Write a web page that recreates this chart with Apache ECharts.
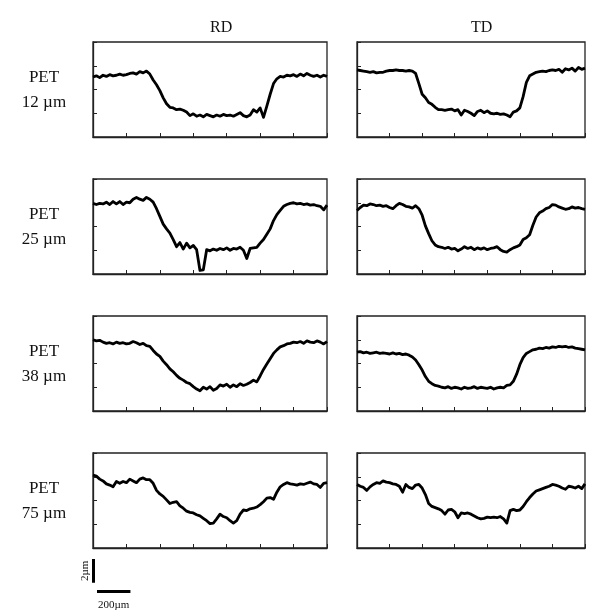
<!DOCTYPE html>
<html>
<head>
<meta charset="utf-8">
<script src="https://cdn.jsdelivr.net/npm/echarts@6/dist/echarts.min.js"></script>
<style>
  html, body { margin: 0; padding: 0; background: #fff; }
  #chart { width: 589px; height: 615px; }
</style>
</head>
<body>
<div id="chart"></div>
<script>
// Surface height profiles (µm) sampled every 20 µm across a 1400 µm scan
const positions = [];
for (let p = 0; p <= 1400; p += 20) positions.push(p);

const columnTitles = ['RD', 'TD'];
const rowFilms = ['PET', 'PET', 'PET', 'PET'];
const rowThickness = ['12 µm', '25 µm', '38 µm', '75 µm'];

const pet12RD = [5.05,5.15,5.0,5.2,5.1,5.25,5.15,5.2,5.3,5.2,5.25,5.35,5.4,5.3,5.5,5.4,5.55,5.3,4.8,4.4,3.9,3.3,2.8,2.5,2.45,2.3,2.35,2.25,2.1,1.8,1.95,1.75,1.85,1.7,1.9,1.8,1.7,1.85,1.75,1.9,1.8,1.85,1.75,1.9,2.05,1.8,1.7,1.85,2.3,2.1,2.45,1.65,2.6,3.6,4.5,4.9,5.1,5.05,5.2,5.15,5.25,5.1,5.3,5.15,5.35,5.2,5.1,5.2,5.05,5.2,5.1];
const pet12TD = [5.65,5.6,5.55,5.5,5.45,5.5,5.4,5.45,5.45,5.55,5.6,5.6,5.65,5.6,5.6,5.55,5.6,5.55,5.35,4.5,3.6,3.3,2.9,2.75,2.5,2.3,2.3,2.25,2.3,2.35,2.2,2.3,1.85,2.25,2.15,2.0,1.8,2.15,2.25,2.05,2.2,2.0,1.95,2.0,1.9,1.95,1.85,1.7,2.1,2.2,2.45,3.4,4.6,5.15,5.3,5.45,5.5,5.55,5.5,5.6,5.65,5.6,5.7,5.45,5.75,5.65,5.8,5.55,5.85,5.7,5.8];
const pet25RD = [5.95,5.85,5.95,5.9,6.05,5.85,6.1,5.9,6.1,5.85,6.05,6.0,6.3,6.45,6.3,6.2,6.45,6.3,6.05,5.5,4.85,4.2,3.8,3.45,2.9,2.3,2.65,2.1,2.6,2.2,2.4,2.05,0.3,0.35,2.05,1.95,2.1,2.0,2.15,2.05,2.2,2.0,2.15,2.1,2.25,2.0,1.3,2.15,2.2,2.25,2.6,2.9,3.35,3.8,4.5,5.0,5.35,5.7,5.85,5.95,6.0,5.9,5.95,5.85,5.9,5.8,5.85,5.75,5.7,5.4,5.8];
const pet25TD = [5.35,5.6,5.8,5.75,5.9,5.85,5.75,5.8,5.7,5.75,5.6,5.5,5.75,5.95,5.85,5.7,5.65,5.55,5.75,5.5,4.95,4.05,3.4,2.8,2.45,2.3,2.25,2.15,2.25,2.1,2.15,1.95,2.1,2.3,2.15,2.25,2.05,2.2,2.1,2.2,2.05,2.15,2.2,2.3,2.05,1.9,1.85,2.05,2.2,2.3,2.45,2.9,3.05,3.3,4.1,4.8,5.15,5.3,5.5,5.6,5.85,5.8,5.65,5.55,5.45,5.5,5.65,5.55,5.6,5.5,5.45];
const pet38RD = [6.0,5.9,5.95,5.8,5.7,5.75,5.65,5.8,5.7,5.75,5.65,5.7,5.85,5.75,5.6,5.7,5.5,5.45,5.1,4.8,4.6,4.2,3.9,3.55,3.3,3.0,2.75,2.6,2.4,2.3,2.05,1.85,1.7,2.0,1.85,2.05,1.75,1.9,2.2,2.1,2.25,2.0,2.2,2.05,2.3,2.15,2.25,2.4,2.6,2.45,2.95,3.5,3.95,4.4,4.85,5.15,5.4,5.5,5.65,5.7,5.8,5.75,5.85,5.7,5.9,5.8,5.75,5.9,5.8,5.65,5.85];
const pet38TD = [4.95,5.0,4.9,4.95,4.85,4.9,4.95,4.85,4.9,4.85,4.8,4.9,4.8,4.85,4.75,4.8,4.7,4.55,4.3,3.9,3.45,2.9,2.5,2.3,2.15,2.1,2.0,1.95,2.05,1.9,2.0,1.95,1.85,2.0,1.9,1.95,2.05,1.9,2.0,1.95,1.9,2.0,1.85,1.95,2.0,1.95,2.15,2.2,2.5,3.1,3.9,4.5,4.85,5.0,5.15,5.2,5.3,5.25,5.35,5.3,5.4,5.35,5.45,5.4,5.45,5.35,5.4,5.3,5.25,5.2,5.15];
const pet75RD = [6.15,6.05,5.8,5.65,5.4,5.3,5.15,5.6,5.45,5.6,5.5,5.8,5.65,5.5,5.8,5.9,5.75,5.75,5.45,4.85,4.55,4.35,4.05,3.75,3.85,3.9,3.55,3.35,3.1,3.0,2.95,2.8,2.7,2.5,2.3,2.05,2.1,2.45,2.85,2.65,2.55,2.3,2.1,2.3,2.85,3.2,3.15,3.3,3.35,3.45,3.65,3.9,4.2,4.25,4.1,4.7,5.15,5.35,5.5,5.4,5.35,5.3,5.4,5.35,5.45,5.55,5.4,5.35,5.1,5.45,5.5];
const pet75TD = [5.35,5.2,5.1,4.85,5.15,5.35,5.5,5.45,5.65,5.55,5.5,5.4,5.35,5.2,4.7,5.35,5.1,5.0,5.3,5.35,5.05,4.5,3.75,3.5,3.4,3.3,3.15,2.85,3.2,3.25,3.05,2.55,2.95,2.9,2.95,2.85,2.7,2.55,2.45,2.5,2.6,2.55,2.6,2.55,2.65,2.45,2.1,3.15,3.25,3.15,3.2,3.5,3.9,4.25,4.55,4.8,4.9,5.0,5.1,5.2,5.35,5.3,5.2,5.05,4.95,5.2,5.15,5.05,5.2,5.0,5.4];

const profiles = [pet12RD, pet12TD, pet25RD, pet25TD, pet38RD, pet38TD, pet75RD, pet75TD];

// Axis ranges and tick spacing
const xMax = 1400, xStep = 200;
const yMax = 8, yStep = 2;
const scaleBarX = 200; // µm
const scaleBarY = 2;   // µm

// Panel layout
const colLeft = [93, 357];
const colWidth = [234, 228];
const rowTop = [42, 179, 316, 453];
const rowHeight = 95;

const serif = '"Liberation Serif", "DejaVu Serif", serif';
const ink = '#111';

const grids = [], xAxes = [], yAxes = [], series = [];
for (let r = 0; r < 4; r++) {
  for (let c = 0; c < 2; c++) {
    const i = r * 2 + c;
    grids.push({
      left: colLeft[c], top: rowTop[r], width: colWidth[c], height: rowHeight,
      show: true, borderColor: '#222', borderWidth: 1.3, backgroundColor: 'transparent'
    });
    xAxes.push({
      gridIndex: i, type: 'value', min: 0, max: xMax, interval: xStep,
      axisLine: { show: true, lineStyle: { color: '#222', width: 1.3 } },
      axisTick: { show: true, inside: true, length: 4, lineStyle: { color: '#222', width: 1 } },
      axisLabel: { show: false }, splitLine: { show: false }
    });
    yAxes.push({
      gridIndex: i, type: 'value', min: 0, max: yMax, interval: yStep,
      axisLine: { show: true, lineStyle: { color: '#222', width: 1.3 } },
      axisTick: { show: true, inside: true, length: 4, lineStyle: { color: '#222', width: 1 } },
      axisLabel: { show: false }, splitLine: { show: false }
    });
    series.push({
      type: 'line', xAxisIndex: i, yAxisIndex: i,
      data: positions.map((p, k) => [p, profiles[i][k]]),
      showSymbol: false, symbol: 'none', smooth: false,
      lineStyle: { color: '#000', width: 2.8, join: 'round' },
      animation: false
    });
  }
}

const textGraphics = [];
columnTitles.forEach((t, c) => {
  textGraphics.push({
    type: 'text', left: colLeft[c] + colWidth[c] / 2, top: 20,
    style: { text: t, font: '16px ' + serif, fill: ink, textAlign: 'center', textVerticalAlign: 'middle' }
  });
});
for (let r = 0; r < 4; r++) {
  textGraphics.push({
    type: 'text', x: 44, y: rowTop[r] + 36,
    style: { text: rowFilms[r], font: '17px ' + serif, fill: ink, textAlign: 'center', textVerticalAlign: 'middle' }
  });
  textGraphics.push({
    type: 'text', x: 44, y: rowTop[r] + 61,
    style: { text: rowThickness[r], font: '17px ' + serif, fill: ink, textAlign: 'center', textVerticalAlign: 'middle' }
  });
}

const chart = echarts.init(document.getElementById('chart'), null, { renderer: 'canvas' });
chart.setOption({
  animation: false,
  backgroundColor: '#fff',
  grid: grids, xAxis: xAxes, yAxis: yAxes, series: series,
  graphic: textGraphics
});

// Scale bars sized through the bottom-left panel's axes
const origin = chart.convertToPixel({ gridIndex: 6 }, [0, 0]);
const ex = chart.convertToPixel({ gridIndex: 6 }, [scaleBarX, 0]);
const ey = chart.convertToPixel({ gridIndex: 6 }, [0, scaleBarY]);
const barW = ex[0] - origin[0];
const barH = origin[1] - ey[1];
const vx = 92, vTop = 559;
const hx = 97, hy = 590;

chart.setOption({
  graphic: textGraphics.concat([
    { type: 'rect', shape: { x: vx, y: vTop, width: 3, height: barH }, style: { fill: '#000' } },
    { type: 'rect', shape: { x: hx, y: hy, width: barW, height: 3 }, style: { fill: '#000' } },
    { type: 'text', x: 85, y: vTop + barH / 2, rotation: Math.PI / 2,
      style: { text: '2µm', font: '11px ' + serif, fill: ink, textAlign: 'center', textVerticalAlign: 'middle' } },
    { type: 'text', x: hx + barW / 2, y: 605,
      style: { text: '200µm', font: '11px ' + serif, fill: ink, textAlign: 'center', textVerticalAlign: 'middle' } }
  ])
});
</script>
</body>
</html>
